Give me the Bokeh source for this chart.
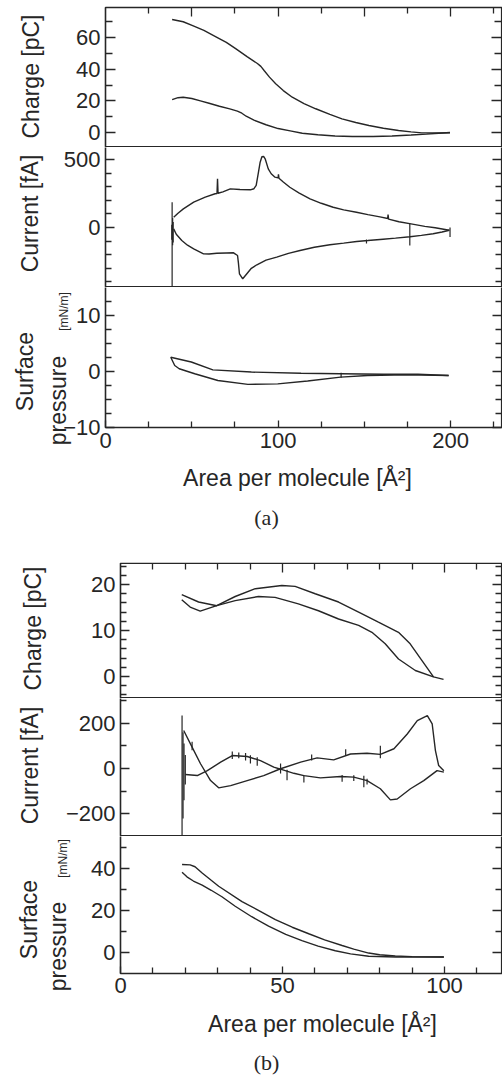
from math import pi
from bokeh.plotting import figure
from bokeh.layouts import column
from bokeh.models import Range1d, FixedTicker, LinearAxis, Label, Grid, BoxAnnotation
from bokeh.embed import file_html
from bokeh.resources import INLINE

# ---------------- data: panel (a) ----------------
a_charge_up_x = [38.6, 45, 50.5, 57, 64, 70, 75.4, 82, 88, 90, 92, 95, 98.6, 103, 108.2, 115, 121.8, 130, 137, 145, 152.6, 161, 169.8, 177, 183.3, 192, 199.6]
a_charge_up_y = [71.4, 70.0, 67.6, 64.5, 60.5, 57.0, 53.0, 48.0, 43.6, 41.8, 39.0, 35.0, 30.8, 26.5, 22.3, 18.2, 15.0, 11.5, 8.6, 6.3, 4.4, 2.7, 1.3, 0.4, -0.2, -0.3, -0.2]
a_charge_lo_x = [38.6, 42, 45, 50, 55, 60, 66, 72, 76.4, 79, 81.5, 86, 93, 100, 107, 114, 123, 133, 143, 155, 166, 177, 186, 193, 199.6]
a_charge_lo_y = [20.8, 22.0, 22.3, 21.5, 20.0, 18.5, 16.6, 14.9, 13.5, 12.2, 10.3, 7.8, 4.9, 2.5, 1.0, -0.5, -1.4, -2.2, -2.5, -2.5, -2.2, -1.6, -1.0, -0.5, 0.0]

a_cur_up_x = [39.5, 42, 45.1, 51.1, 57.8, 63.5, 64.6, 64.9, 65.2, 68, 72.3, 77.9, 83.9, 86, 87.3, 88.6, 89.6, 90.6, 91.6, 92.5, 94.3, 96, 98.2, 100, 100.2, 100.5, 103, 106.8, 112, 118.5, 125, 131.9, 138, 145.4, 152, 159, 163.5, 163.7, 164, 170, 177, 185, 191, 199.2]
a_cur_up_y = [76, 105, 137, 186, 223, 248, 250, 358, 252, 262, 284, 279, 277, 285, 309, 406, 480, 520, 522, 505, 431, 395, 370, 365, 390, 362, 335, 296, 255, 211, 178, 149, 130, 112, 95, 78, 66, 95, 62, 42, 27, 8, -2, -20]
a_cur_lo_x = [39.5, 41, 44.2, 47.5, 51.1, 56.8, 60, 64.5, 70, 74.2, 76.5, 77, 77.6, 79.5, 81.9, 84.5, 87.7, 93, 99.2, 106, 112.7, 121, 130, 138, 145.5, 152, 160.8, 168, 176.4, 183, 189.8, 195, 199.2]
a_cur_lo_y = [-10, -50, -96, -130, -157, -194, -195, -189, -187, -186, -206, -260, -340, -377, -340, -300, -274, -240, -218, -190, -169, -145, -127, -115, -103, -96, -86, -78, -68, -58, -46, -33, -20]
a_spike_x = [38.6, 38.9, 39.2, 38.4, 151.2, 176.3, 199.6]
a_spike_y0 = [186, 70, 40, 20, -88, 30, 0]
a_spike_y1 = [-441, -130, -110, -90, -118, -132, -70]

a_pres_up_x = [37.8, 49.7, 62.2, 84.5, 113.3, 136.2, 161, 181, 198.8]
a_pres_up_y = [2.55, 1.7, 0.3, -0.1, -0.3, -0.4, -0.5, -0.5, -0.7]
a_pres_lo_x = [37.8, 40.1, 42.7, 51.7, 65.1, 82.5, 99.8, 117.1, 136.2, 151.8, 175, 198.8]
a_pres_lo_y = [2.55, 1.07, 0.5, -0.4, -1.6, -2.3, -2.2, -1.7, -1.0, -0.7, -0.6, -0.7]

# ---------------- data: panel (b) ----------------
b_charge_1_x = [18.9, 24.1, 29.7, 35.4, 41.6, 49.8, 53.9, 60.1, 67.3, 73.5, 79.6, 85.8, 89.4, 93.0, 96.6, 99.7]
b_charge_1_y = [17.8, 16.2, 15.4, 17.4, 19.1, 19.8, 19.6, 18.0, 16.2, 14.0, 11.8, 9.6, 7.1, 3.5, -0.1, -0.65]
b_charge_2_x = [18.9, 21.5, 24.6, 29.7, 35.4, 42.6, 47.7, 54.9, 61.1, 67.3, 73.5, 77.6, 81.7, 85.8, 91.0, 96.6]
b_charge_2_y = [16.7, 15.1, 14.2, 15.4, 16.5, 17.4, 17.2, 15.8, 14.3, 12.5, 11.1, 9.6, 7.1, 3.8, 1.3, -0.1]

b_cur_1_x = [19.5, 22.1, 24.7, 27.8, 30.3, 34.0, 39.1, 44.2, 49.4, 55.6, 60.7, 65.8, 71.0, 76.1, 80.2, 84.4, 88.5, 91.6, 94.7, 96.2, 97.2, 98.2, 99.8]
b_cur_1_y = [167, 94, 21, -53, -85, -75, -53, -31, -1, 28, 47, 38, 64, 67, 62, 87, 152, 211, 233, 196, 79, 13, -10]
b_cur_2_x = [20.0, 23.7, 26.8, 30.9, 34.5, 39.1, 43.2, 47.3, 49.4, 53.5, 56.6, 61.7, 67.9, 72.0, 76.1, 80.2, 83.3, 85.4, 89.5, 93.6, 97.7, 99.8]
b_cur_2_y = [-26, -31, -9, 28, 57, 53, 35, 6, -3, -21, -31, -41, -35, -38, -53, -89, -138, -134, -89, -53, -9, -16]
b_spike_x = [19.0, 19.3, 19.6, 20.0, 22.1, 34.5, 36.5, 38.6, 40.1, 42.2, 49.4, 51.4, 56.6, 59.0, 69.5, 80.2, 68.4, 72.0, 75.1, 76.1]
b_spike_y0 = [233, 160, 110, 60, 80, 42, 45, 35, 22, 12, -22, -5, -28, 35, 55, 45, -28, -30, -32, -45]
b_spike_y1 = [-299, -220, -140, -70, 118, 75, 70, 68, 58, 50, 22, -52, -62, 62, 85, 100, -58, -55, -82, -70]

b_pres_up_x = [19.0, 21.5, 23.0, 25.2, 30.3, 37.5, 42, 47.8, 53, 58.1, 63, 68.4, 72, 76.6, 80, 84.8, 90, 99.8]
b_pres_up_y = [41.9, 41.7, 40.8, 37.8, 31.5, 24.2, 20.5, 15.6, 12.0, 8.9, 6.0, 3.3, 1.6, -0.3, -1.1, -1.7, -2.0, -2.2]
b_pres_lo_x = [19.0, 20.5, 22.5, 25.2, 28, 31.3, 35.4, 40.5, 45.7, 51, 56.0, 61, 66.3, 71, 76.6, 85, 99.8]
b_pres_lo_y = [38.2, 36.0, 34.0, 32.0, 29.6, 26.5, 22.0, 17.0, 12.5, 8.6, 5.6, 3.0, 0.8, -0.7, -1.8, -2.2, -2.2]

# ---------------- axes, ticks, texts ----------------
a_x_max = 230.0
b_x_max = 117.9
a_x_major = [0, 100, 200]
a_x_minor = [25, 50, 75, 125, 150, 175, 225]
a_top_major = [50, 100, 150, 200]
b_x_major = [0, 50, 100]
b_x_minor = [10, 20, 30, 40, 60, 70, 80, 90, 110]
b_top_major = [50, 100]
x_title = "Area per molecule [Å²]"

INK = "#262626"
SANS = "Liberation Sans"
SERIF = "Liberation Serif"
TICK_FS = "22px"
LAB_FS = "23px"
W = 502
LW = 1.6
HALF = 0.8  # px: keep frame strokes fully inside one canvas

# pixel geometry (page coordinates; the page has no margin)
A_X0, B_X0 = 105, 120          # x of data 0


def make_fig(top, height, x0_px, xmax, y_lo, y_hi, box_lo, box_hi):
    """box_lo/box_hi: frame edge values; None = edge lies outside this canvas."""
    scale = (W - x0_px) / xmax
    yscale = height / (y_hi - y_lo)
    p = figure(width=W, height=height, x_range=Range1d(-x0_px / scale, xmax),
               y_range=Range1d(y_lo, y_hi), output_backend="svg", toolbar_location=None,
               min_border=0, min_border_left=0, min_border_right=0, min_border_top=0,
               min_border_bottom=0, x_axis_location=None, y_axis_location="left")
    for r in list(p.center):
        if isinstance(r, Grid):
            r.visible = False
    p.outline_line_color = None
    p.background_fill_color = "white"
    p.border_fill_color = "white"
    lo = box_lo if box_lo is not None else y_lo - 50 / yscale
    hi = box_hi if box_hi is not None else y_hi + 50 / yscale
    right = xmax - HALF / scale
    p.add_layout(BoxAnnotation(left=0, right=right, bottom=lo, top=hi,
                               fill_alpha=0, line_color=INK, line_alpha=1.0, line_width=LW))
    p._geom = (top, height, yscale, right)
    return p


def style_axis(ax, ticks, minor, labels=True, maj=8, mino=5, loc=None):
    ax.ticker = FixedTicker(ticks=ticks, minor_ticks=minor)
    ax.fixed_location = loc
    ax.major_tick_in = maj
    ax.major_tick_out = 0
    ax.minor_tick_in = mino
    ax.minor_tick_out = 0
    ax.axis_line_color = None
    ax.major_tick_line_color = INK
    ax.minor_tick_line_color = INK
    ax.major_tick_line_width = 1.3
    ax.minor_tick_line_width = 1.3
    if labels:
        ax.major_label_text_font = SANS
        ax.major_label_text_font_size = TICK_FS
        ax.major_label_text_color = INK
        ax.major_label_standoff = 5
    else:
        ax.major_label_text_color = None
        ax.major_label_text_font_size = "1px"
        ax.major_label_standoff = 0


def add_axis(p, ticks, minor, side, loc, labels=False, maj=8, mino=5):
    ax = LinearAxis()
    style_axis(ax, ticks, minor, labels=labels, maj=maj, mino=mino, loc=loc)
    p.add_layout(ax, side)


def right_axis(p, ticks, minor, maj=9, mino=6):
    add_axis(p, ticks, minor, "right", p._geom[3], maj=maj, mino=mino)


def text(p, px, py, s, size, angle=0.0, font=SANS):
    top, height = p._geom[0], p._geom[1]
    p.add_layout(Label(x=px, y=height - (py - top), x_units="screen", y_units="screen",
                       text=s, angle=angle, text_align="center", text_baseline="middle",
                       text_font=font, text_font_size=size, text_color=INK))


def curve(p, xs, ys):
    p.line(xs, ys, line_color=INK, line_width=1.4)


def spikes(p, xs, y0, y1):
    p.segment(x0=xs, y0=y0, x1=xs, y1=y1, line_color=INK, line_width=1.2)


# ---- (a) charge : page y 0..147, box 7..147
a1 = make_fig(0, 147, A_X0, a_x_max, -9.47, 83.42, -9.47 + HALF / 1.583, 79.0)
ch_major, ch_minor = [0, 20, 40, 60], [-10, 10, 30, 50, 70]
style_axis(a1.yaxis[0], ch_major, ch_minor, maj=10, mino=7, loc=0)
right_axis(a1, ch_major, ch_minor, maj=10, mino=7)
add_axis(a1, a_top_major, [25, 75, 125, 175, 225], "above", 79.0, maj=9, mino=6)
curve(a1, a_charge_up_x, a_charge_up_y)
curve(a1, a_charge_lo_x, a_charge_lo_y)
text(a1, 30, 76, "Charge [pC]", LAB_FS, pi / 2)

# ---- (a) current : page y 147..287
a2 = make_fig(147, 140, A_X0, a_x_max, -441, 588, -441 + HALF / 0.136, None)
cu_major, cu_minor = [0, 500], [-400, -300, -200, -100, 100, 200, 300, 400]
style_axis(a2.yaxis[0], cu_major, cu_minor, maj=9, mino=6, loc=0)
right_axis(a2, cu_major, cu_minor)
curve(a2, a_cur_up_x, a_cur_up_y)
curve(a2, a_cur_lo_x, a_cur_lo_y)
spikes(a2, a_spike_x, a_spike_y0, a_spike_y1)
text(a2, 29, 213, "Current [fA]", LAB_FS, pi / 2)

# ---- (a) pressure : page y 287..562, box 287..427
a3 = make_fig(287, 275, A_X0, a_x_max, -34.1, 15, -10, None)
pr_major, pr_minor = [-10, 0, 10], [-7.5, -5, -2.5, 2.5, 5, 7.5, 12.5]
style_axis(a3.yaxis[0], pr_major, pr_minor, maj=9, mino=6, loc=0)
right_axis(a3, pr_major, pr_minor)
add_axis(a3, a_x_major, a_x_minor, "below", -10, labels=True, maj=7, mino=6)
curve(a3, a_pres_up_x, a_pres_up_y)
curve(a3, a_pres_lo_x, a_pres_lo_y)
spikes(a3, [136.5], [-0.2], [-1.1])
text(a3, 24, 371, "Surface", LAB_FS, pi / 2)
text(a3, 57, 400, "pressure", LAB_FS, pi / 2)
text(a3, 63, 311, "[mN/m]", "12px", pi / 2)
text(a3, 297, 477, x_title, LAB_FS)
text(a3, 266, 517, "(a)", "22px", font=SERIF)

# ---- (b) charge : page y 562..698
b1 = make_fig(562, 136, B_X0, b_x_max, -4.8, 24.8, -4.8 + HALF / 4.6, 24.8 - HALF / 4.6)
bc_major, bc_minor = [0, 10, 20], [-4, -2, 2, 4, 6, 8, 12, 14, 16, 18, 22, 24]
style_axis(b1.yaxis[0], bc_major, bc_minor, maj=9, mino=6, loc=0)
right_axis(b1, bc_major, bc_minor)
add_axis(b1, b_top_major, b_x_minor, "above", 24.8 - HALF / 4.6, maj=9, mino=6)
curve(b1, b_charge_1_x, b_charge_1_y)
curve(b1, b_charge_2_x, b_charge_2_y)
text(b1, 32, 628, "Charge [pC]", LAB_FS, pi / 2)

# ---- (b) current : page y 698..836
b2 = make_fig(698, 138, B_X0, b_x_max, -299, 308, -299 + HALF / 0.2275, None)
bi_major, bi_minor = [-200, 0, 200], [-100, 100, 300]
style_axis(b2.yaxis[0], bi_major, bi_minor, maj=9, mino=6, loc=0)
right_axis(b2, bi_major, bi_minor)
curve(b2, b_cur_1_x, b_cur_1_y)
curve(b2, b_cur_2_x, b_cur_2_y)
spikes(b2, b_spike_x, b_spike_y0, b_spike_y1)
text(b2, 29, 765, "Current [fA]", LAB_FS, pi / 2)

# ---- (b) pressure : page y 836..1075, box 836..973
b3 = make_fig(836, 239, B_X0, b_x_max, -58.6, 55.2, -10, None)
bp_major, bp_minor = [0, 20, 40], [10, 30, 50]
style_axis(b3.yaxis[0], bp_major, bp_minor, maj=9, mino=6, loc=0)
right_axis(b3, bp_major, bp_minor)
add_axis(b3, b_x_major, b_x_minor, "below", -10, labels=True, maj=7, mino=6)
curve(b3, b_pres_up_x, b_pres_up_y)
curve(b3, b_pres_lo_x, b_pres_lo_y)
text(b3, 28, 919, "Surface", LAB_FS, pi / 2)
text(b3, 57, 946, "pressure", LAB_FS, pi / 2)
text(b3, 62, 858, "[mN/m]", "12px", pi / 2)
text(b3, 322, 1023, x_title, LAB_FS)
text(b3, 266, 1062, "(b)", "22px", font=SERIF)

for f in (a1, a2, a3, b1, b2, b3):
    del f._geom

layout = column(a1, a2, a3, b1, b2, b3, spacing=0)

open("out.html", "w").write(file_html(layout, INLINE))
